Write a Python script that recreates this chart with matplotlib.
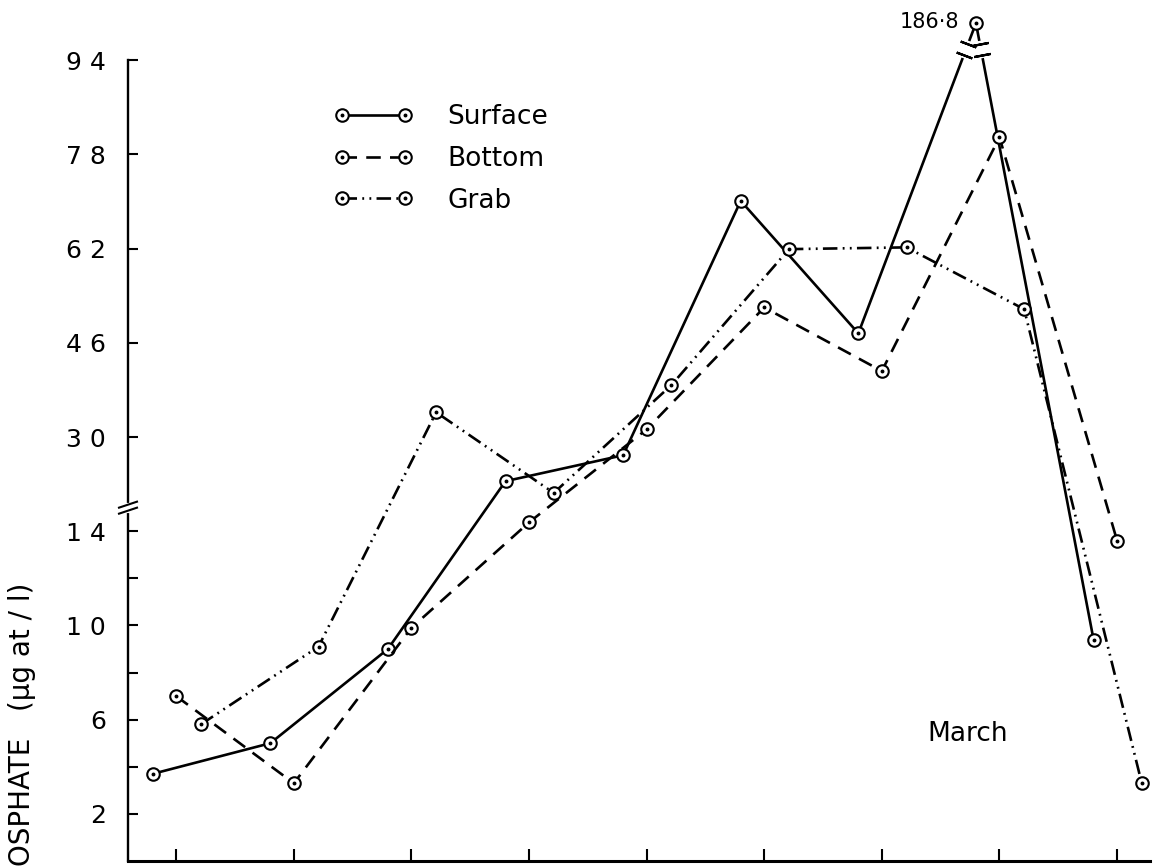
import numpy as np
import matplotlib.pyplot as plt
from matplotlib.legend_handler import HandlerTuple
from matplotlib.transforms import IdentityTransform

# sampling stations along the x axis (one tick per station)
stations = np.arange(9)

# phosphate, ug at / l
surface = [3.7, 5.0, 9.0, 22.5, 26.9, 70.1, 47.6, 186.8, 9.4]
bottom = [7.0, 3.3, 9.9, 15.5, 31.3, 52.0, 41.2, 80.9, 13.6]
grab = [5.8, 9.1, 34.2, 20.5, 38.8, 61.9, 62.2, 51.7, 3.3]

ytick_vals = [2, 6, 10, 14, 30, 46, 62, 78, 94]
ytick_labels = ['2', '6', '1 0', '1 4', '3 0', '4 6', '6 2', '7 8', '9 4']
yminor_vals = [4, 8, 12]

peak_label = '186·8'
month_label = 'March'
ylabel = 'OSPHATE   (µg at / l)'

plt.rcParams['font.family'] = ['DejaVu Sans']


# broken axis: 0-14 linear, above 14 at a quarter of the scale, above 94 squeezed
def fwd(v):
    v = np.asarray(v, dtype=float)
    return np.where(v <= 14, v,
                    np.where(v <= 94, 14 + (v - 14) / 4.0, 34 + (v - 94) * 0.0169))


def inv(y):
    y = np.asarray(y, dtype=float)
    return np.where(y <= 14, y,
                    np.where(y <= 34, 14 + (y - 14) * 4.0, 94 + (y - 34) / 0.0169))


fig = plt.figure(figsize=(11.56, 8.66), dpi=100)
ax = fig.add_axes([128 / 1156, 5 / 866, 1022 / 1156, 848 / 866])
ax.set_yscale('function', functions=(fwd, inv))
ax.set_xlim(-0.41, 8.28)
ax.set_ylim(0, float(inv(36)))

for s in ['top', 'right']:
    ax.spines[s].set_visible(False)
ax.spines['left'].set_linewidth(1.7)
ax.spines['left'].set_bounds(0, 94)
ax.spines['bottom'].set_linewidth(2.2)

ax.set_xticks(stations)
ax.set_xticklabels([])
ax.tick_params(axis='x', direction='in', length=9, width=1.5)
ax.set_yticks(ytick_vals)
ax.set_yticklabels(ytick_labels, fontsize=18)
ax.set_yticks(yminor_vals, minor=True)
ax.tick_params(axis='y', which='both', direction='in', length=7, width=1.5, pad=16)


def draw(xs, ys, dashes):
    ln, = ax.plot(xs, ys, color='k', lw=1.9, dashes=dashes, marker='o', ms=9,
                  mfc='white', mec='k', mew=1.5, zorder=3)
    dot, = ax.plot(xs, ys, ls='none', marker='o', ms=1.8, color='k', zorder=4)
    return ln, dot


sx = stations - 0.2
gx = stations + 0.21
h_surf = draw(sx, surface, ())
h_bot = draw(stations, bottom, (5.5, 3.5))
h_grab = draw(gx, grab, (5.5, 2, 0.7, 2, 0.7, 2))

ax.legend([h_surf, h_bot, h_grab], ['Surface', 'Bottom', 'Grab'],
          handler_map={tuple: HandlerTuple(ndivide=1)}, numpoints=2,
          handlelength=3.0, handletextpad=1.3, labelspacing=0.6,
          fontsize=19, frameon=False, borderpad=0, borderaxespad=0,
          loc='upper left', bbox_to_anchor=(334 / 1156, 1 - 104 / 866),
          bbox_transform=fig.transFigure)

ax.annotate(peak_label, xy=(sx[7], surface[7]), xytext=(-12, 1),
            textcoords='offset points', ha='right', va='center', fontsize=15)
ax.text(6.73, 5.4, month_label, ha='center', va='center', fontsize=19)
fig.text(0.019, 0.0, ylabel, rotation=90, ha='center', va='bottom', fontsize=20)

# break on the y axis between 14 and 30
yb = 15.0 / 36
dxp, dyp = 1 / 1022, 1 / 848
ax.plot([0, 0], [yb - 3 * dyp, yb + 3 * dyp], color='white', lw=3,
        transform=ax.transAxes, clip_on=False, zorder=5)
for off in (-3, 3):
    ax.plot([-9 * dxp, 9 * dxp], [yb + (off - 3) * dyp, yb + (off + 3) * dyp],
            color='k', lw=1.5, transform=ax.transAxes, clip_on=False, zorder=6)

# break marks on the two surface segments running up to the off-scale peak
cut_lo, cut_hi = float(inv(34.2)), float(inv(34.7))
td = ax.transData
for i, j in [(6, 7), (8, 7)]:
    a = td.transform((sx[i], surface[i]))
    b = td.transform((sx[j], surface[j]))
    pts = []
    for v in (cut_lo, cut_hi):
        ty = td.transform((sx[j], v))[1]
        t = (ty - a[1]) / (b[1] - a[1])
        pts.append(a + t * (b - a))
    pts = np.array(pts)
    ang = np.degrees(np.arctan2(b[1] - a[1], b[0] - a[0]))
    ax.plot(pts[:, 0], pts[:, 1], color='white', lw=4, transform=IdentityTransform(),
            clip_on=False, zorder=5)
    ax.plot(pts[:, 0], pts[:, 1], ls='none', marker=(2, 2, ang), ms=12, mew=1.6,
            color='k', transform=IdentityTransform(), clip_on=False, zorder=6)

fig.savefig('out.png', dpi=100)
